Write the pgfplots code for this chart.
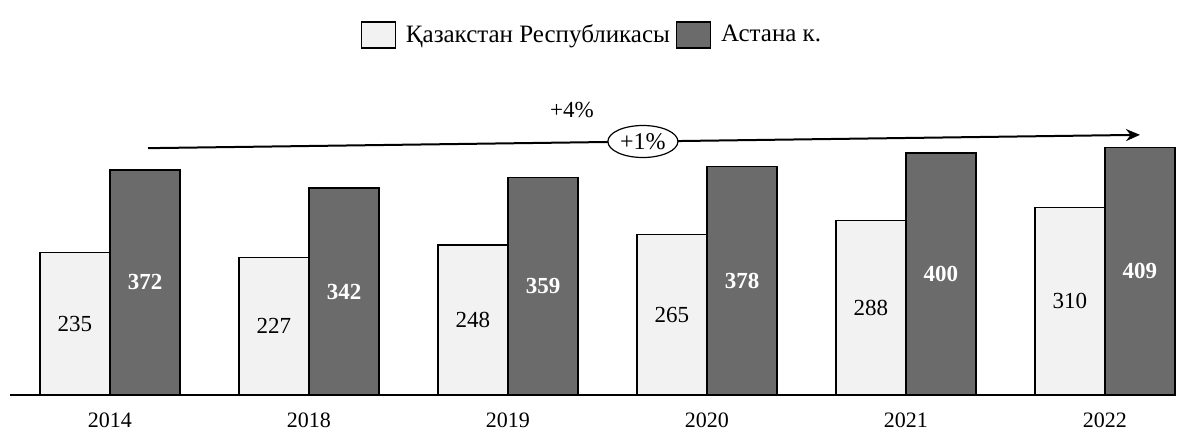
\documentclass[border=0pt]{standalone}
\usepackage{pgfplots}
\pgfplotsset{compat=1.18}
\usepackage{pgfplotstable}
\usetikzlibrary{arrows.meta,shapes.geometric}
\usepackage{fontspec}
\setmainfont{Liberation Serif}

\pgfplotstableread{
x v
0 235
1 227
2 248
3 265
4 288
5 310
}\kazakhstan
\pgfplotstableread{
x v
0 372
1 342
2 359
3 378
4 400
5 409
}\astana

\definecolor{lightbar}{gray}{0.95}
\definecolor{darkbar}{gray}{0.42}

\begin{document}
\begin{tikzpicture}
\useasboundingbox (0,0) rectangle (594.5pt,216.5pt);
\begin{axis}[
  at={(5pt,19pt)}, anchor=south west,
  scale only axis,
  width=582.5pt, height=181.5pt,
  xmin=-0.5025, xmax=5.352,
  ymin=0, ymax=600,
  clip=false,
  axis x line*=bottom,
  axis y line=none,
  axis line style={line width=0.8pt, -},
  xtick={0,1,2,3,4,5},
  xticklabels={2014,2018,2019,2020,2021,2022},
  xtick style={draw=none},
  xticklabel style={font=\fontsize{11}{13}\selectfont, yshift=-1pt},
  ybar, bar width=0.352,
  legend columns=2,
  legend style={at={(0.5004,0.992)}, anchor=center, draw=none,
    font=\fontsize{12.5}{15}\selectfont,
    /tikz/every odd column/.append style={column sep=3pt},
    /tikz/every even column/.append style={column sep=1pt}},
  legend image code/.code={\draw[#1, line width=0.6pt] (0pt,-6.5pt) rectangle (17pt,6.5pt);},
]
\addplot[fill=lightbar, draw=black, line width=0.6pt, bar shift=-0.176] table[x=x,y=v] {\kazakhstan};
\addlegendentry{Қазакстан Республикасы}
\addplot[fill=darkbar, draw=black, line width=0.6pt, bar shift=0.176] table[x=x,y=v] {\astana};
\addlegendentry{Астана к.}

% labels at mid-height
\addplot[draw=none, fill=none, bar shift=0pt, forget plot,
  point meta=explicit symbolic,
  nodes near coords, nodes near coords align=center,
  every node near coord/.style={anchor=center, font=\fontsize{11.5}{13}\selectfont, text=black}]
  table[x expr=\thisrow{x}-0.176, y expr=\thisrow{v}/2, meta=v] {\kazakhstan};
\addplot[draw=none, fill=none, bar shift=0pt, forget plot,
  point meta=explicit symbolic,
  nodes near coords, nodes near coords align=center,
  every node near coord/.style={anchor=center, font=\fontsize{11.5}{13}\selectfont\bfseries, text=white}]
  table[x expr=\thisrow{x}+0.176, y expr=\thisrow{v}/2, meta=v] {\astana};

\draw[line width=1pt, -{Stealth[length=7pt,width=6pt]}] (axis cs:0.191,408) -- (axis cs:5.176,430);
\node[ellipse, draw=black, line width=0.6pt, fill=white, minimum width=35pt, minimum height=16pt, inner sep=1pt, font=\fontsize{12}{14}\selectfont] at (axis cs:2.678,419) {+1\%};
\node[font=\fontsize{11.5}{13}\selectfont] at (axis cs:2.322,471) {+4\%};
\end{axis}
\end{tikzpicture}
\end{document}
